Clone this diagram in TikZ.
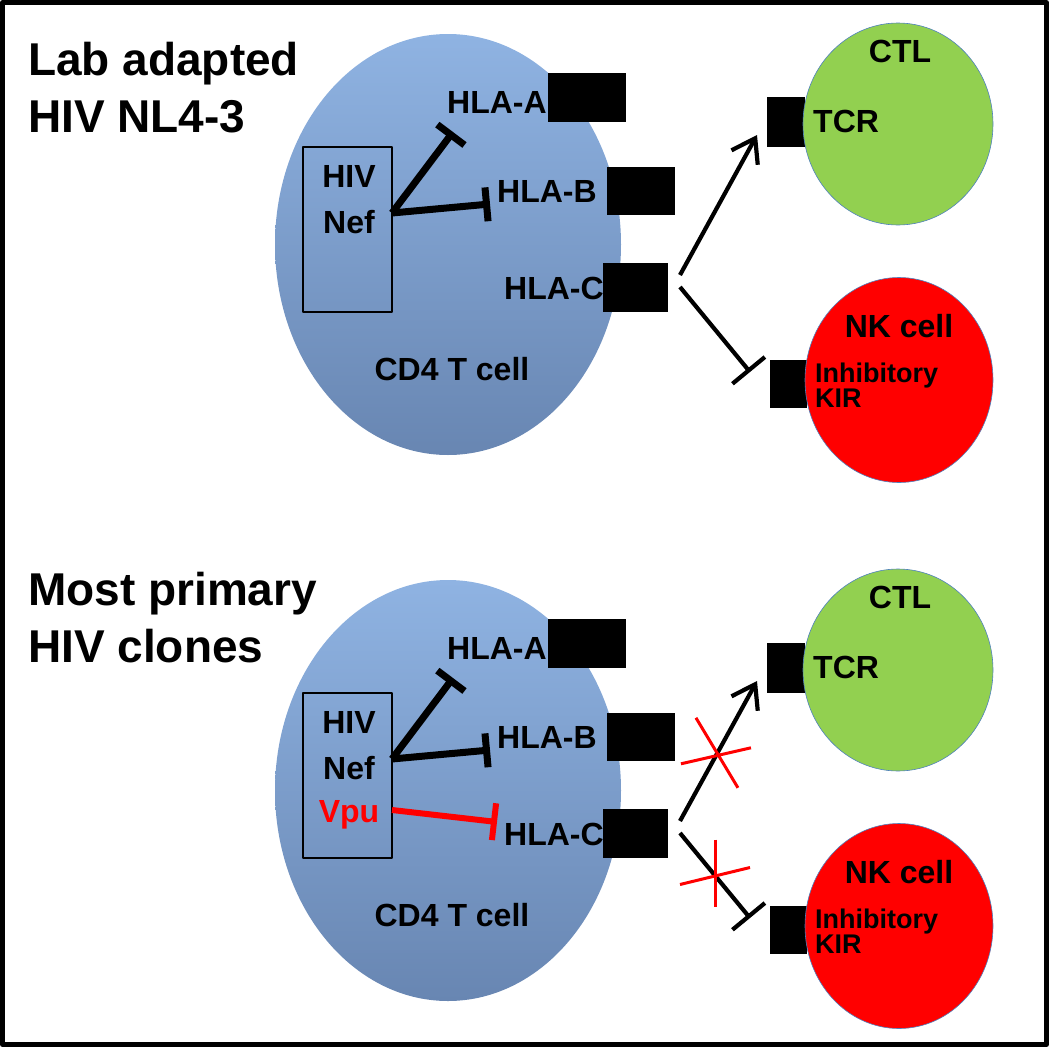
\documentclass[tikz,border=0pt]{standalone}
\usepackage{fontspec}
\setmainfont{Liberation Sans}
\usetikzlibrary{arrows.meta,shapes.geometric}
\providecommand{\Top}{8FB3E2}
\providecommand{\Bottom}{6886B2}
\providecommand{\Green}{92D050}
\providecommand{\Red}{FF0000}
\newcommand{\Unit}{1pt}
\newcommand{\Fat}{7pt}
\newcommand{\Thin}{4.2pt}
\newcommand{\Gap}{546}
\definecolor{celltop}{HTML}{\Top}
\definecolor{cellbottom}{HTML}{\Bottom}
\definecolor{ctl}{HTML}{\Green}
\definecolor{nk}{HTML}{\Red}
\definecolor{rim}{HTML}{4F81BD}
\definecolor{ink}{HTML}{000000}

\tikzset{
  word/.style={inner sep=0pt, anchor=base, font=\fontsize{32}{36}\selectfont\bfseries},
  heading/.style={inner sep=0pt, anchor=base west, font=\fontsize{46}{52}\selectfont\bfseries},
  fine/.style={inner sep=0pt, anchor=base west, font=\fontsize{27}{30}\selectfont\bfseries},
  receptor/.style={fill=ink, inner sep=0pt, minimum width=#1},
  blocks/.style={ink, line width=\Fat, -{Bar[width=34pt]}},
  signal/.style={ink, line width=\Thin},
  xmark/.style={nk, line width=3pt},
}

\begin{document}
\begin{tikzpicture}[x=\Unit,y=-\Unit, line join=round]

  \useasboundingbox (0,0) rectangle (1050,1047);
  \draw[ink,line width=5pt] (2.5,2.5) rectangle (1046.5,1044.5);

  % ---- the two titles -----------------------------------------------------
  \node[heading] (lab) at (28,75) {Lab adapted};
  \node[heading] (nl43) at (28,132) {HIV NL4-3};
  \node[heading] (most) at (28,605) {Most primary};
  \node[heading] (clones) at (28,662) {HIV clones};

  % ---- one panel each, the lower one moved down by \Gap ------------------
  \foreach \p/\dy in {top/0, bot/\Gap} {
    \begin{scope}[shift={(0,\dy)}]
      % infected cell
      \node[ellipse, inner sep=0pt, minimum width=346pt, minimum height=421pt,
            top color=celltop, bottom color=cellbottom] (cd4-\p) at (448,244.5) {};
      \node[word] (cd4txt-\p) at (452,380) {CD4 T cell};

      % HLA molecules on its surface
      \node[receptor=78pt, minimum height=49pt] (hlaA-\p) at (587,97.5) {};
      \node[receptor=68pt, minimum height=48pt] (hlaB-\p) at (641,191) {};
      \node[receptor=65pt, minimum height=49pt] (hlaC-\p) at (635.5,287.5) {};
      \node[word] (hlaAtxt-\p) at (497,113) {HLA-A};
      \node[word] (hlaBtxt-\p) at (547,202) {HLA-B};
      \node[word] (hlaCtxt-\p) at (554,299) {HLA-C};

      % the viral proteins
      \node[draw=ink, line width=2pt, inner sep=0pt, minimum width=89pt,
            minimum height=165pt] (box-\p) at (347.5,229.5) {};
      \node[word] (hiv-\p) at (349,187) {HIV};
      \node[word] (nef-\p) at (349,233) {Nef};
      \coordinate (nefout-\p) at (392,213);
      \coordinate (hitA-\p) at (453,132);
      \coordinate (hitB-\p) at (490,204);
      \draw[blocks] (nefout-\p) -- (hitA-\p);
      \draw[blocks] (nefout-\p) -- (hitB-\p);

      % killer cells, receptor first so the cell sits over it
      \node[receptor=38pt, minimum height=50pt] (tcr-\p) at (786,122) {};
      \node[receptor=37pt, minimum height=48pt] (kir-\p) at (788.5,384) {};
      \node[ellipse, inner sep=0pt, minimum width=190pt, minimum height=202pt,
            fill=ctl, draw=rim, line width=0.6pt] (ctl-\p) at (898,124) {};
      \node[ellipse, inner sep=0pt, minimum width=188pt, minimum height=205pt,
            fill=nk, draw=rim, line width=0.6pt] (nk-\p) at (899,380) {};
      \node[word] (ctltxt-\p) at (900,62) {CTL};
      \node[word, anchor=base west] (tcrtxt-\p) at (813,132) {TCR};
      \node[word] (nktxt-\p) at (899,337) {NK cell};
      \node[fine] (inh-\p) at (815,382) {Inhibitory};
      \node[fine] (kirtxt-\p) at (815,407) {KIR};

      % HLA-C talks to both
      \coordinate (up-\p) at (680,275);
      \coordinate (down-\p) at (680,287);
      \coordinate (hitT-\p) at (757,135);
      \coordinate (hitK-\p) at (750,372);
      \draw[signal, -{Straight Barb[length=22pt,width=30pt]}] (up-\p) -- (hitT-\p);
      \draw[signal, -{Bar[width=42pt]}] (down-\p) -- (hitK-\p);
    \end{scope}
  }

  % ---- only in primary clones: Vpu takes HLA-C down ----------------------
  \node[word, text=nk] (vpu) at (349,822) {Vpu};
  \coordinate (vpuout) at (392,810);
  \coordinate (hitC) at (497,822);
  \draw[blocks, nk, line width=6pt, -{Bar[width=37pt]}] (vpuout) -- (hitC);

  % ---- and both signals are lost -----------------------------------------
  \path (up-bot) -- (hitT-bot) coordinate[pos=0.48] (cross1);
  \path (down-bot) -- (hitK-bot) coordinate[pos=0.5] (cross2);
  \draw[xmark] (cross1) ++(-36,10) -- ++(70,-16);
  \draw[xmark] (cross1) ++(-21,-36) -- ++(42,70);
  \draw[xmark] (cross2) ++(-35,9) -- ++(70,-17);
  \draw[xmark] (cross2) ++(0,-36) -- ++(0,67);

\end{tikzpicture}
\end{document}
